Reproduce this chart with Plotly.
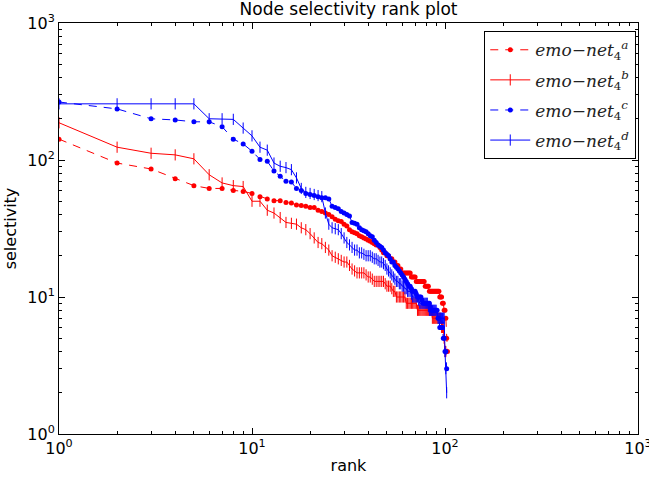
import plotly.graph_objects as go

# selectivity values by rank (rank = index + 1)
sel_a = [142, 95, 86, 73, 65, 62, 62, 60, 59, 57,
         54, 52, 50.5, 50.5, 49, 48.5, 47, 46.5, 46, 45,
         45, 43, 42, 41, 40, 38.5, 37, 36, 35.5, 34,
         33, 31, 30, 29.5, 29, 28, 27.5, 27, 26.5, 26,
         25.5, 25, 24.5, 24, 24, 23, 22, 21, 21, 20,
         20, 19, 19, 18, 18, 17, 17, 16, 16, 15,
         15, 15, 15, 15, 15, 15, 14, 14, 14, 14,
         13, 13, 13, 13, 13, 13, 13, 13, 12, 12,
         12, 12, 11, 11, 11, 11, 11, 11, 11, 11,
         11, 11, 11, 10, 10, 10, 9, 9, 8, 8,
         7, 5, 4]
sel_b = [187, 124, 112, 109, 102, 78, 68, 65, 64, 50,
         50, 43, 41, 38, 35, 34.5, 34, 32, 31, 29,
         27, 25, 24.5, 23, 22, 20, 19.5, 19, 18.5, 18,
         18, 17, 16, 15.5, 15, 15, 15, 15, 14.5, 14,
         14, 13.5, 13, 13, 13, 13, 13, 13, 12.5, 12,
         12, 12, 11.5, 11, 11, 10, 10, 10, 10, 10,
         10, 10, 9, 9, 9, 9, 9, 9, 9, 9,
         9, 8, 8, 8, 8, 8, 8, 8, 8, 8,
         8, 8, 8, 8, 8, 7, 7, 7, 7, 7,
         7, 7, 7, 7, 7, 6, 6, 6, 5, 4,
         4]
sel_c = [265, 236, 200, 196, 190, 190, 175, 142, 131, 116,
         101, 98, 83, 76, 70, 69, 62, 60, 57, 56,
         55, 54, 53, 53, 52, 46, 45, 44, 42, 41,
         40, 39, 35, 34.5, 34, 32, 31, 30.5, 30, 29,
         28, 27.5, 26, 25, 24, 23.5, 23, 22, 21, 20.5,
         20, 19, 18, 18, 17, 16.5, 16, 15.5, 15, 14.5,
         14, 13.5, 13, 12.5, 12, 12, 11.5, 11, 11, 11,
         10.5, 10, 10, 10, 10, 9.5, 9, 9, 9, 9,
         9, 9, 9, 8.5, 8, 8, 8, 8, 8, 8,
         8, 7, 7, 6, 6, 6, 6, 5, 5, 4,
         4, 3]
sel_d = [257, 257, 257, 257, 257, 200, 200, 198, 171, 150,
         124, 118, 95, 90, 88, 85, 74, 62, 58, 57,
         56, 55, 54, 41, 34, 32, 31.5, 31, 29, 27,
         25, 24, 23, 22, 22, 21, 21, 20.5, 20, 20,
         20, 19.5, 19, 19, 18.5, 18, 18, 17.5, 17, 16,
         15.5, 15, 14.5, 14, 13.5, 13, 13, 12.5, 12.5, 12,
         12, 11.5, 11.5, 11, 11, 11, 10.5, 10, 10, 10,
         10, 10, 9.5, 9, 9, 9, 9, 9, 9, 9,
         9, 8.5, 8, 8, 8, 8, 8, 8, 8, 8,
         7.5, 7, 7, 7, 7, 7, 7, 7, 7, 4,
         3, 2]

names = ["<i>emo</i>\u2212<i>net</i><sub>4</sub><sup><i>a</i></sup>",
         "<i>emo</i>\u2212<i>net</i><sub>4</sub><sup><i>b</i></sup>",
         "<i>emo</i>\u2212<i>net</i><sub>4</sub><sup><i>c</i></sup>",
         "<i>emo</i>\u2212<i>net</i><sub>4</sub><sup><i>d</i></sup>"]

RED = "#ff0000"
BLUE = "#0000ff"

def ranks(v):
    return list(range(1, len(v) + 1))

fig = go.Figure()
fig.add_trace(go.Scatter(x=ranks(sel_a), y=sel_a, name=names[0], legendgroup="a",
                         mode="lines+markers",
                         line=dict(color=RED, width=1, dash="8px,7px"),
                         marker=dict(symbol="circle", size=5, color=RED)))
fig.add_trace(go.Scatter(x=ranks(sel_b), y=sel_b, name=names[1], legendgroup="b",
                         mode="lines+markers",
                         line=dict(color=RED, width=1),
                         marker=dict(symbol="line-ns", size=8, color=RED,
                                     line=dict(color=RED, width=1))))
fig.add_trace(go.Scatter(x=ranks(sel_c), y=sel_c, name=names[2], legendgroup="c",
                         mode="lines+markers",
                         line=dict(color=BLUE, width=1, dash="8px,7px"),
                         marker=dict(symbol="circle", size=5, color=BLUE)))
fig.add_trace(go.Scatter(x=ranks(sel_d), y=sel_d, name=names[3], legendgroup="d",
                         mode="lines+markers",
                         line=dict(color=BLUE, width=1),
                         marker=dict(symbol="line-ns", size=8, color=BLUE,
                                     line=dict(color=BLUE, width=1))))

tickvals = [1, 10, 100, 1000]
ticktext = ["10<sup>0</sup>", "10<sup>1</sup>", "10<sup>2</sup>", "10<sup>3</sup>"]

axis_common = dict(type="log", range=[0, 3], tickvals=tickvals, ticktext=ticktext,
                   ticks="inside", ticklen=6, tickwidth=1, tickcolor="black",
                   showline=True, linecolor="black", linewidth=1, mirror="allticks",
                   showgrid=False, zeroline=False, automargin=False,
                   ticklabeloverflow="allow",
                   tickfont=dict(family="DejaVu Sans", size=16, color="black"),
                   minor=dict(ticks="inside", ticklen=3, tickcolor="black", dtick="D1",
                              showgrid=False))

fig.update_layout(
    width=649, height=481,
    margin=dict(l=59, r=11, t=23, b=47, autoexpand=False),
    paper_bgcolor="white", plot_bgcolor="white",
    title=dict(text="Node selectivity rank plot", x=0.5, xref="paper", xanchor="center",
               y=0.993, yref="container", yanchor="top",
               font=dict(family="DejaVu Sans", size=17, color="black")),
    xaxis=dict(axis_common, title=dict(text="rank", standoff=2,
                                       font=dict(family="DejaVu Sans", size=16, color="black"))),
    yaxis=dict(axis_common, title=dict(text="selectivity", standoff=6,
                                       font=dict(family="DejaVu Sans", size=16, color="black"))),
    legend=dict(x=0.997, xanchor="right", y=0.98, yanchor="top",
                bordercolor="black", borderwidth=1, bgcolor="white",
                font=dict(family="DejaVu Serif", size=17, color="#222222"),
                tracegroupgap=5, itemwidth=40),
    showlegend=True,
)

fig.write_html("out.html", config={"displayModeBar": False},
               post_script="document.body.style.margin='0';")
